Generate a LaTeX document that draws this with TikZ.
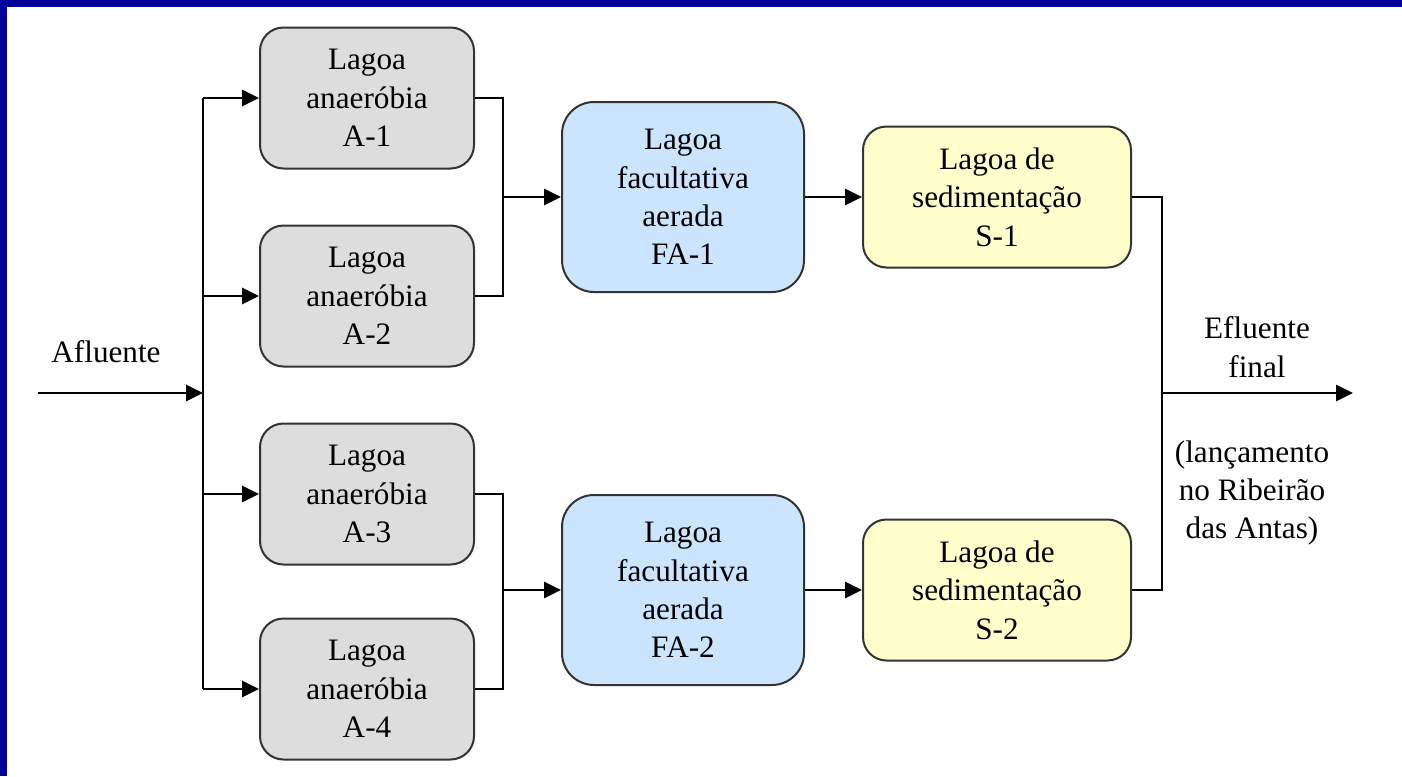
\documentclass[tikz,border=0pt]{standalone}
\usepackage{fontspec}
\setmainfont{Liberation Serif}
\definecolor{FrameBlue}{HTML}{000099}
\definecolor{LagoaGray}{HTML}{DDDDDD}
\definecolor{LagoaBlue}{HTML}{CCE5FF}
\definecolor{LagoaYellow}{HTML}{FFFFCC}
\definecolor{BoxEdge}{HTML}{333333}
\usetikzlibrary{arrows.meta,positioning,calc}

\begin{document}
\begin{tikzpicture}[x=0.5pt,y=-0.5pt,
    font=\fontsize{15.6}{19.2}\selectfont,
    lagoa/.style={rounded corners=11.75pt,draw=BoxEdge,line width=1pt,
                  minimum height=70.5pt,inner sep=0pt,align=center},
    anaer/.style={lagoa,fill=LagoaGray,minimum width=107pt},
    facult/.style={lagoa,fill=LagoaBlue,minimum width=121pt,
                   minimum height=95pt,rounded corners=16pt},
    sedim/.style={lagoa,fill=LagoaYellow,minimum width=134pt},
    pipe/.style={line width=1.35pt,black},
    flow/.style={pipe,-{Triangle[length=8.5pt,width=8pt]}},
    txt/.style={align=center,inner sep=0pt}]

    \useasboundingbox (0,0) rectangle (1402,776);
    % frame
    \fill[white] (0,0) rectangle (1402,776);
    \fill[FrameBlue] (0,0) rectangle (1402,7);
    \fill[FrameBlue] (0,0) rectangle (7,776);

    % lagoas
    \node[anaer] (a1) at (367,98)  {Lagoa\\anaeróbia\\A-1};
    \node[anaer] (a2) at (367,296) {Lagoa\\anaeróbia\\A-2};
    \node[anaer] (a3) at (367,494) {Lagoa\\anaeróbia\\A-3};
    \node[anaer] (a4) at (367,689) {Lagoa\\anaeróbia\\A-4};
    \node[facult] (fa1) at (683,197) {Lagoa\\facultativa\\aerada\\FA-1};
    \node[facult] (fa2) at (683,590) {Lagoa\\facultativa\\aerada\\FA-2};
    \node[sedim] (s1) at (997,197) {Lagoa de\\sedimentação\\S-1};
    \node[sedim] (s2) at (997,590) {Lagoa de\\sedimentação\\S-2};

    % entrada e distribuicao
    \coordinate (in)    at (38,393);
    \coordinate (trunk) at (203,393);
    \draw[flow] (in) -- (trunk);
    \draw[pipe] (a1.west -| trunk) -- (a4.west -| trunk);
    \foreach \n in {a1,a2,a3,a4}{
      \draw[flow] (\n.west -| trunk) -- (\n.west);
    }
    \node[txt] (afl) at (106,352) {Afluente};

    % coletores
    \coordinate (j1) at (503,197);
    \coordinate (j2) at (503,590);
    \draw[pipe] (a1.east) -| (j1) |- (a2.east);
    \draw[pipe] (a3.east) -| (j2) |- (a4.east);
    \draw[flow] (j1) -- (fa1.west);
    \draw[flow] (j2) -- (fa2.west);
    \draw[flow] (fa1) -- (s1);
    \draw[flow] (fa2) -- (s2);

    % saida
    \coordinate (j3)  at (1162,393);
    \coordinate (out) at (1353,393);
    \draw[pipe] (s1.east) -| (j3) |- (s2.east);
    \draw[flow] (j3) -- (out);
    \node[txt] (efl)  at (1257,347) {Efluente\\final};
    \node[txt] (lanc) at (1252,493) {(lançamento\\no Ribeirão\\das Antas)};
  \end{tikzpicture}
\end{document}
